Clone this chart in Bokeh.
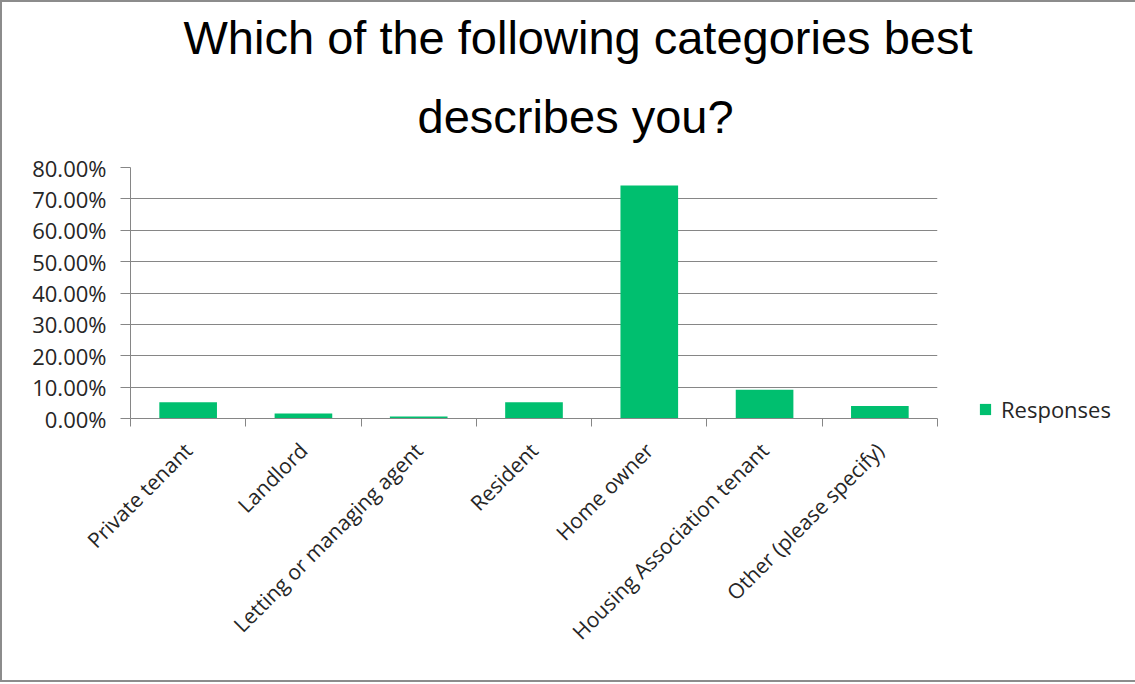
from bokeh.plotting import figure
from bokeh.models import (ColumnDataSource, FixedTicker, NumeralTickFormatter,
                          Legend, LegendItem, Title, Range1d)
from bokeh.embed import file_html
from bokeh.resources import INLINE

categories = ["Private tenant", "Landlord", "Letting or managing agent",
              "Resident", "Home owner", "Housing Association tenant",
              "Other (please specify)"]
responses = [0.052, 0.016, 0.006, 0.052, 0.743, 0.092, 0.040]
y_ticks = [0.0, 0.1, 0.2, 0.3, 0.4, 0.5, 0.6, 0.7, 0.8]
series_name = "Responses"
title_lines = ["Which of the following categories best", "describes you?"]

BAR = "#00BF6F"
GRID = "#868686"
TXT = "#262626"
FONT = "Open Sans"

x_pos = [i + 0.5 for i in range(len(categories))]
src = ColumnDataSource(dict(x=x_pos, top=responses, cat=categories))

p = figure(frame_width=807, frame_height=251, output_backend="svg",
           toolbar_location=None,
           x_range=Range1d(0, len(categories)), y_range=Range1d(0, 0.8),
           min_border_left=128, min_border_right=194,
           min_border_top=165, min_border_bottom=262)
p.styles = {"border": "2px solid #8c8c8c", "box-sizing": "border-box"}
p.outline_line_color = None
p.background_fill_color = "white"
p.border_fill_color = "white"

r = p.vbar(x="x", top="top", width=0.5, bottom=0, source=src,
           fill_color=BAR, line_color=None)

# x axis: labels at centers, ticks at boundaries
p.xaxis.ticker = FixedTicker(ticks=x_pos, minor_ticks=list(range(len(categories) + 1)))
p.xaxis.major_label_overrides = {x: c for x, c in zip(x_pos, categories)}
p.xaxis.major_label_orientation = 0.785398
p.xaxis.major_tick_out = 0
p.xaxis.major_tick_in = 0
p.xaxis.minor_tick_out = 8
p.xaxis.minor_tick_in = 0
p.xaxis.minor_tick_line_color = GRID
p.xaxis.axis_line_color = GRID
p.xaxis.major_label_text_font = FONT
p.xaxis.major_label_text_font_size = "21px"
p.xaxis.major_label_text_color = TXT
p.xaxis.major_label_standoff = 20
p.xgrid.grid_line_color = None

# y axis
p.yaxis.ticker = FixedTicker(ticks=y_ticks)
p.yaxis.formatter = NumeralTickFormatter(format="0.00%")
p.yaxis.major_tick_out = 10
p.yaxis.major_tick_in = 0
p.yaxis.minor_tick_line_color = None
p.yaxis.major_tick_line_color = GRID
p.yaxis.axis_line_color = GRID
p.yaxis.major_label_text_font = FONT
p.yaxis.major_label_text_font_size = "22px"
p.yaxis.major_label_text_color = TXT
p.yaxis.major_label_standoff = 14
p.ygrid.grid_line_color = GRID
p.ygrid.grid_line_width = 1

# legend outside to the right
legend = Legend(items=[LegendItem(label=series_name, renderers=[r])],
                location=(41, -6), glyph_width=14, glyph_height=14,
                label_text_font=FONT, label_text_font_size="22px",
                label_text_color=TXT, border_line_color=None,
                background_fill_alpha=0, padding=0, margin=0,
                label_standoff=9)
p.add_layout(legend, "right")

# two-line title (last added sits on top)
p.title.visible = False
t2 = Title(text=title_lines[1], align="left", text_font="Liberation Sans",
           text_font_size="47px", text_font_style="normal", text_color="black",
           text_line_height=1.0, standoff=49, offset=287)
t1 = Title(text=title_lines[0], align="left", text_font="Liberation Sans",
           text_font_size="47px", text_font_style="normal", text_color="black",
           text_line_height=1.2, standoff=0, offset=53)
p.add_layout(t2, "above")
p.add_layout(t1, "above")

open("out.html", "w").write(file_html(p, INLINE))
